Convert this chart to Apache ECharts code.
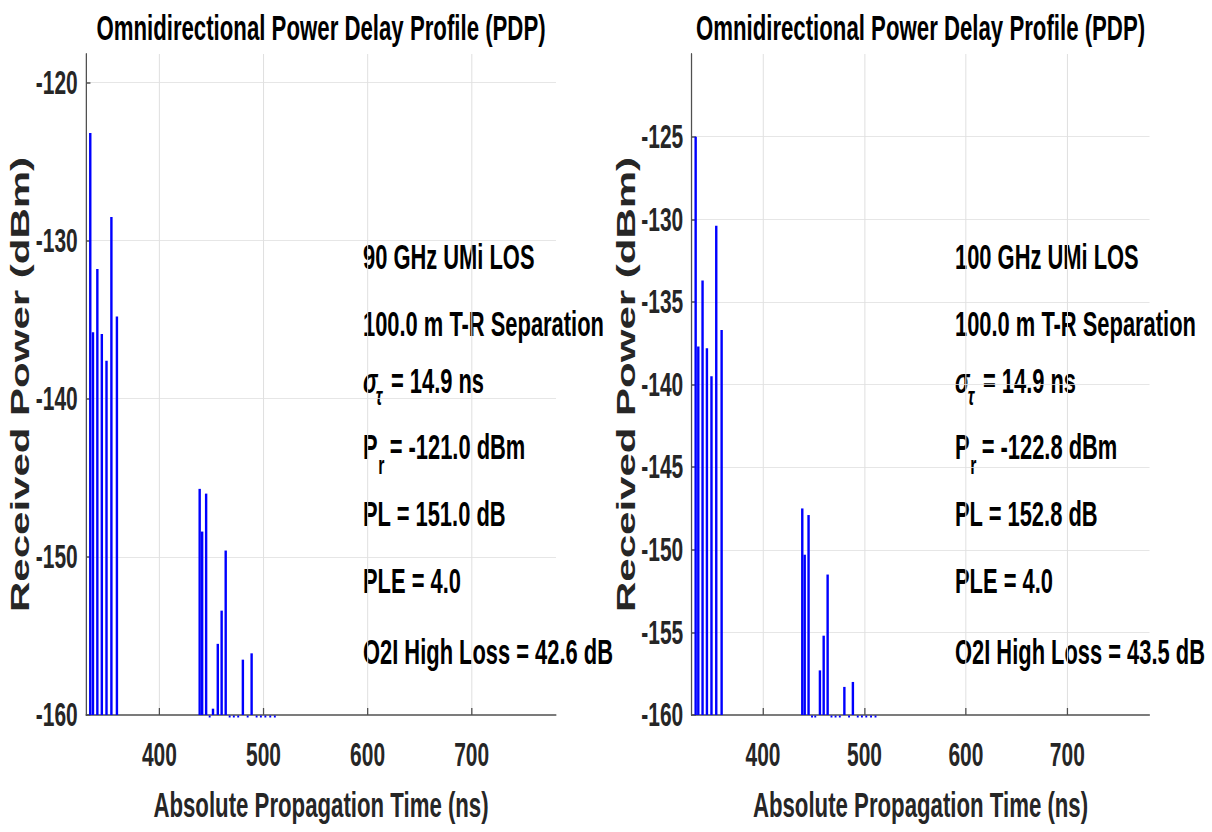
<!DOCTYPE html>
<html>
<head>
<meta charset="utf-8">
<script src="https://cdn.jsdelivr.net/npm/echarts@6/dist/echarts.min.js"></script>
<style>
  html, body { margin: 0; padding: 0; background: #fff; overflow: hidden; }
  /* the reference figure is squeezed horizontally, so draw it wide and squeeze it */
  #chart { width: 1909px; height: 832px; transform: scaleX(0.635); transform-origin: 0 0; }
</style>
</head>
<body>
<div id="chart"></div>
<script>
// multipath component delays (ns), shared by both panels
var delays = [333.6, 336.2, 340.4, 344.7, 349.2, 353.9, 359.2,
  438.7, 441.1, 444.9, 448.3, 451.5, 456.1, 459.8, 463.7, 467.5, 471.5, 475.7,
  480.2, 484.8, 488.6, 493.4, 497.5, 501.8, 506.5, 510.9];

// received power (dBm); -160 = below the noise floor
var power90 = [-123.2, -135.8, -131.8, -135.9, -137.6, -128.5, -134.8,
  -145.7, -148.4, -146.0, -160, -159.6, -155.5, -153.4, -149.6, -160, -160, -160,
  -156.5, -160, -156.1, -160, -160, -160, -160, -160];
var power100 = [-125.0, -137.7, -133.7, -137.8, -139.5, -130.4, -136.7,
  -147.5, -150.3, -147.9, -160, -160, -157.3, -155.2, -151.5, -160, -160, -160,
  -158.3, -160, -158.0, -160, -160, -160, -160, -160];

var yMin = -160;
var yMax90 = -118.2, yMax100 = -120;
var yStep90 = 10, yStep100 = 5;
var xMin = 329.5, xMax = 781;

var titleText = 'Omnidirectional Power Delay Profile (PDP)';
var notes90 = ['90 GHz UMi LOS', '100.0 m T-R Separation', '= 14.9 ns', '= -121.0 dBm',
  'PL = 151.0 dB', 'PLE = 4.0', 'O2I High Loss = 42.6 dB'];
var notes100 = ['100 GHz UMi LOS', '100.0 m T-R Separation', '= 14.9 ns', '= -122.8 dBm',
  'PL = 152.8 dB', 'PLE = 4.0', 'O2I High Loss = 43.5 dB'];

var S = 0.635;
var FONT = "'Liberation Sans', Arial, Helvetica, sans-serif";
var grids = [
  { left: 86 / S, top: 54, width: 470 / S, height: 661 },
  { left: 691.5 / S, top: 54, width: 458 / S, height: 661 }
];

function stem(params, api) {
  var t = api.value(0), p = api.value(1);
  var base = api.coord([t, yMin]);
  if (p <= yMin) {
    return { type: 'rect', shape: { x: base[0] - 1.5, y: base[1] + 0.5, width: 3, height: 2 },
      style: { fill: '#0000ff' } };
  }
  var top = api.coord([t, p]);
  return { type: 'line', shape: { x1: base[0], y1: base[1], x2: top[0], y2: top[1] },
    style: { stroke: '#0000ff', lineWidth: 3.8 } };
}

function xAx(i) {
  return {
    type: 'value', gridIndex: i, min: xMin, max: xMax, splitNumber: 5,
    name: 'Absolute Propagation Time (ns)', nameLocation: 'middle', nameGap: 72,
    nameTextStyle: { fontSize: 35, fontWeight: 'bold', color: '#262626', fontFamily: FONT },
    axisLine: { show: true, onZero: false, lineStyle: { color: '#505050', width: 1.5 } },
    axisTick: { show: true, inside: true, length: 7, lineStyle: { color: '#505050', width: 2 } },
    axisLabel: { fontSize: 33, fontWeight: 'bold', color: '#262626', fontFamily: FONT, margin: 23,
      showMinLabel: false, showMaxLabel: false },
    splitLine: { show: true, showMinLine: false, showMaxLine: false, lineStyle: { color: '#e0e0e0', width: 1.6 } }
  };
}

function yAx(i, max, step) {
  return {
    type: 'value', gridIndex: i, min: yMin, max: max, interval: step,
    name: 'Received Power (dBm)', nameLocation: 'middle', nameGap: 76,
    nameTextStyle: { fontSize: 42, fontWeight: 'bold', color: '#262626', fontFamily: FONT },
    axisLine: { show: true, onZero: false, lineStyle: { color: '#505050', width: 2 } },
    axisTick: { show: true, inside: true, length: 7, lineStyle: { color: '#505050', width: 1.5 } },
    axisLabel: { fontSize: 33, fontWeight: 'bold', color: '#262626', fontFamily: FONT, margin: 13,
      showMaxLabel: false },
    splitLine: { show: true, showMinLine: false, showMaxLine: false, lineStyle: { color: '#e0e0e0', width: 1 } }
  };
}

var rowsY = [257, 324, 381, 447, 514, 581, 652];
function notes(lines, x) {
  var base = { fontSize: 34.5, fontWeight: 'bold', fill: '#000', fontFamily: FONT, textVerticalAlign: 'middle' };
  var out = [];
  [0, 1, 4, 5, 6].forEach(function (k) {
    out.push({ type: 'text', x: x, y: rowsY[k], style: Object.assign({ text: lines[k] }, base) });
  });
  out.push({ type: 'text', x: x, y: rowsY[2], style: Object.assign({}, base, { text: 'σ', fontStyle: 'italic' }) });
  out.push({ type: 'text', x: x + 20, y: rowsY[2] + 15, style: Object.assign({}, base, { text: 'τ', fontStyle: 'italic', fontSize: 25 }) });
  out.push({ type: 'text', x: x + 44, y: rowsY[2], style: Object.assign({ text: lines[2] }, base) });
  out.push({ type: 'text', x: x, y: rowsY[3], style: Object.assign({ text: 'P' }, base) });
  out.push({ type: 'text', x: x + 24, y: rowsY[3] + 18, style: Object.assign({}, base, { text: 'r', fontSize: 25 }) });
  out.push({ type: 'text', x: x + 42, y: rowsY[3], style: Object.assign({ text: lines[3] }, base) });
  return out;
}

function titleEl(g) {
  return { type: 'text', x: g.left + g.width / 2, y: 27,
    style: { text: titleText, fontSize: 35, fontWeight: 'bold', fill: '#000', fontFamily: FONT,
      textAlign: 'center', textVerticalAlign: 'middle' } };
}

var chart = echarts.init(document.getElementById('chart'), null, { renderer: 'svg' });
var option = {
  backgroundColor: '#fff',
  animation: false,
  grid: grids,
  xAxis: [xAx(0), xAx(1)],
  yAxis: [yAx(0, yMax90, yStep90), yAx(1, yMax100, yStep100)],
  series: [
    { type: 'custom', xAxisIndex: 0, yAxisIndex: 0, renderItem: stem, z: 5,
      data: delays.map(function (t, i) { return [t, power90[i]]; }) },
    { type: 'custom', xAxisIndex: 1, yAxisIndex: 1, renderItem: stem, z: 5,
      data: delays.map(function (t, i) { return [t, power100[i]]; }) }
  ],
  graphic: [titleEl(grids[0]), titleEl(grids[1])]
    .concat(notes(notes90, 363 / S))
    .concat(notes(notes100, 955 / S))
};
chart.setOption(option);
</script>
</body>
</html>
